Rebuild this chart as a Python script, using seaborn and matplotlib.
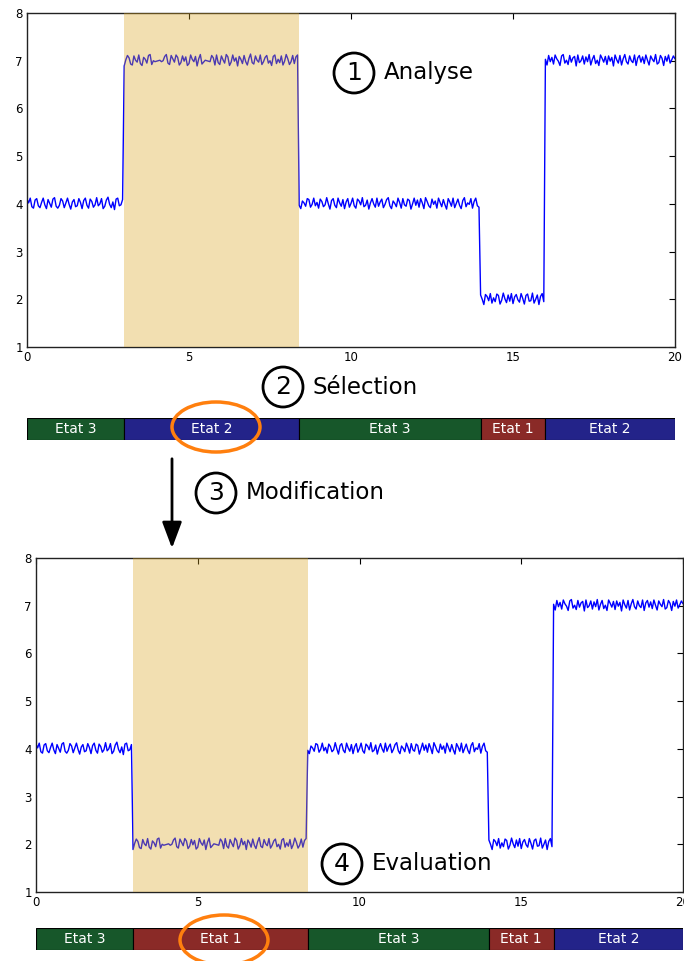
import numpy as np
import matplotlib
matplotlib.use("Agg")
import matplotlib.pyplot as plt
from matplotlib.patches import Ellipse, FancyArrowPatch
import seaborn as sns

# segments du signal
breaks = [0, 3, 8.4, 14, 16, 20]
levels_avant = [4, 7, 4, 2, 7]
levels_apres = [4, 2, 4, 2, 7]
etats_avant = ["Etat 3", "Etat 2", "Etat 3", "Etat 1", "Etat 2"]
etats_apres = ["Etat 3", "Etat 1", "Etat 3", "Etat 1", "Etat 2"]
etat_colors = {"Etat 1": "#8a2a27", "Etat 2": "#232389", "Etat 3": "#17572a"}

# bruit (centiemes), pas de 0.05
noise_cents = [
    10, 2, 12, -6, -9, 8, 11, -4, -8, 3, 12, -2, -10, 9, 1, -7, 10, 13, -5, -9,
    -3, 11, 6, -8, 2, 12, -1, -11, 4, 9, -6, -4, 11, 3, -10, 7, 12, -3, -9, 10,
    5, -7, -2, 13, -4, 0, 11, -10, -5, 8, 14, -1, -8, 4, -12, 10, 12, -4, -2, 9,
    -11, 2, 11, 6, -7, -9, 10, 1, -3, 12, -6, -10, 7, 3, -5, 11, 13, -8, 0, -2,
    -1, 0, 1, -2, 0, 9, 13, -5, -8, 11, 4, -3, 12, 7, -9, -4, 10, -1, 8, -10,
    -6, 12, 3, -2, 9, -11, 4, 13, -7, -3, 1, 0, -1, -2, 11, 6, -9, 12, -4, -8,
    10, 2, -5, 13, 8, -10, -3, 12, -1, 6, -11, 9, 3, -6, 11, -2, -9, 5, 14, -4,
    -7, 10, 1, -3, 12, -8, -2, 7, 11, -5, 0, -10, 9, 12, -6, 3, -4, 10, -9, -1,
    13, 4, -8, -2, 11, -6, 8, 12, -3, -10, 6, 2, -5, 11, 9, -7, -1, 12, -4, 3,
    -9, 10, 5, -6, -2, 13, 0, -11, 7, 11, -3, -8, 12, 2, -5, 9, -10, 4, 11, -7,
    1, 12, -4, -9, 10, 6, -2, 13, -6, -3, 8, -11, 2, 11, 0, -7, 12, -5, 4, 10,
    -8, -1, 9, 13, -4, -10, 6, 1, -6, 12, 3, -9, 11, -2, -5, 10, 7, -11, 0, 12,
    -3, 8, -7, 11, 2, -10, 13, 5, -4, -8, 10, -1, 6, -9, 12, 3, -6, 9, -2, -11,
    11, 4, -5, 12, -8, 1, 10, -3, -10, 7, 13, -6, 2, -1, 11, -9, 5, 12, -4, -7,
    9, 0, -11, 10, 6, -3, 12, -8, 3, -5, 11, 8, -10, -2, 13, 1, -7, 9, -4, 12,
    -9, 5, 10, -1, -6, 12, 2, -10, 8, 11, -4, -3, 13, -8, 0, 9, -11, 6, 12, -5,
    3, -9, 11, -2, 7, -7, 12, 4, -1, -10, 10, 13, -5, 1, -8, 11, -3, 6, 9, -11,
    12, -4, 0, 10, -7, 8, -2, 13, -9, 3, 11, -6, 1, -10, 12, 5, -3, 9, -8, 10,
    -1, 7, -11, 12, 2, -5, 11, -9, 4, 13, -2, -7, 10, 0, -4, 12, -10, 6, 11, -3,
    8, -6, 12, 1, -9, 10, 3, -2, 13, -7, -4, 11, 5, -10, 9, -1, 12, -5, 2, 10,
    4,
]

x = np.arange(len(noise_cents)) * 0.05
noise = np.array(noise_cents) / 100.0


def signal(levels):
    idx = np.searchsorted(breaks, x, side="right") - 1
    idx = np.clip(idx, 0, len(levels) - 1)
    return np.array(levels)[idx] + noise


sns.set_style("white")
plt.rcParams["font.family"] = ["DejaVu Sans"]
plt.rcParams["text.color"] = "black"
plt.rcParams["xtick.color"] = "black"
plt.rcParams["ytick.color"] = "black"

W, H = 684, 961
fig = plt.figure(figsize=(W / 100, H / 100), dpi=100)


def fx(px):
    return px / W


def fy(py):
    return 1 - py / H


def signal_axes(left, right, top, bottom, levels):
    ax = fig.add_axes([fx(left), fy(bottom), fx(right - left), (bottom - top) / H])
    sns.lineplot(x=x, y=signal(levels), ax=ax, color="b", lw=1, estimator=None)
    ax.axvspan(breaks[1], breaks[2], color="goldenrod", alpha=0.35, lw=0, zorder=3)
    ax.set_xlim(0, 20)
    ax.set_ylim(1, 8)
    ax.set_xticks([0, 5, 10, 15, 20])
    ax.set_yticks(range(1, 9))
    ax.tick_params(direction="in", top=True, right=True, labelsize=8.5,
                   length=4, width=0.8, pad=3)
    for s in ax.spines.values():
        s.set_color("#222222")
        s.set_linewidth(1)
    ax.set_xlabel("")
    ax.set_ylabel("")
    return ax


def etat_axes(left, right, top, bottom, etats):
    ax = fig.add_axes([fx(left), fy(bottom), fx(right - left), (bottom - top) / H])
    starts = breaks[:-1]
    widths = np.diff(breaks)
    ax.barh([0] * len(etats), widths, left=starts, height=1,
            color=[etat_colors[e] for e in etats], edgecolor="black", lw=0.8)
    for s, w, e in zip(starts, widths, etats):
        ax.text(s + w / 2, 0, e, color="white", ha="center", va="center", fontsize=10)
    ax.set_xlim(0, 20)
    ax.set_ylim(-0.5, 0.5)
    ax.axis("off")
    return ax


signal_axes(27, 675, 13, 347, levels_avant)
etat_axes(27, 675, 418, 440, etats_avant)
signal_axes(36, 683, 558, 892, levels_apres)
etat_axes(36, 683, 928, 950, etats_apres)

# etapes numerotees
steps = [("1", "Analyse", 354, 73), ("2", "Sélection", 283, 387),
         ("3", "Modification", 216, 493), ("4", "Evaluation", 342, 864)]
r = 20
for num, label, cx, cy in steps:
    fig.add_artist(Ellipse((fx(cx), fy(cy)), 2 * r / W, 2 * r / H,
                           transform=fig.transFigure, fc="white", ec="black", lw=2, zorder=10))
    fig.text(fx(cx), fy(cy), num, ha="center", va="center", fontsize=18, zorder=11)
    fig.text(fx(cx + r + 10), fy(cy), label, ha="left", va="center", fontsize=16.5, zorder=11)

# ellipses orange
for cx, cy in [(216, 427), (224, 940)]:
    fig.add_artist(Ellipse((fx(cx), fy(cy)), 88 / W, 50 / H, transform=fig.transFigure,
                           fc="none", ec="#ff7f0e", lw=2.5, zorder=12))

# fleche
fig.add_artist(FancyArrowPatch((fx(172), fy(456)), (fx(172), fy(551)),
                               transform=fig.transFigure, color="black", lw=2,
                               arrowstyle="-|>,head_length=0.8,head_width=0.3",
                               mutation_scale=20, zorder=10))

fig.savefig("out.png", dpi=100)
